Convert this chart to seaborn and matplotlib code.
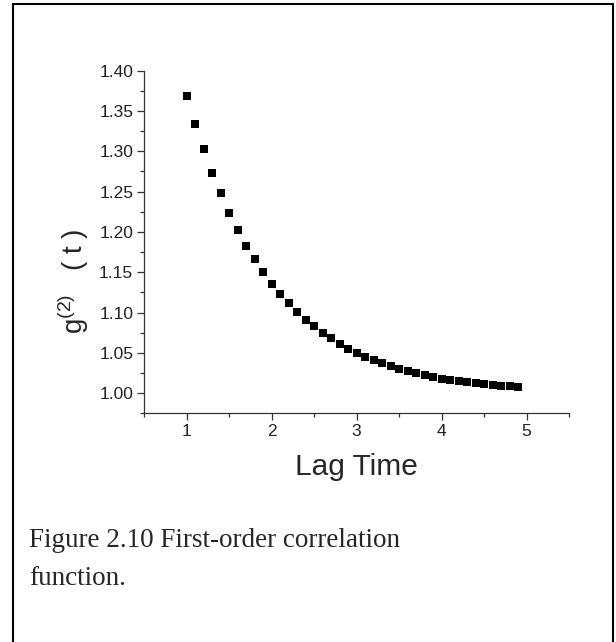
import numpy as np
import pandas as pd
import matplotlib.pyplot as plt
from matplotlib.patches import Rectangle
from matplotlib.ticker import MultipleLocator
import seaborn as sns

lag_time = [1.0, 1.1, 1.2, 1.3, 1.4, 1.5, 1.6, 1.7, 1.8, 1.9,
            2.0, 2.1, 2.2, 2.3, 2.4, 2.5, 2.6, 2.7, 2.8, 2.9,
            3.0, 3.1, 3.2, 3.3, 3.4, 3.5, 3.6, 3.7, 3.8, 3.9,
            4.0, 4.1, 4.2, 4.3, 4.4, 4.5, 4.6, 4.7, 4.8, 4.9]
g2 = [1.369, 1.334, 1.303, 1.273, 1.248, 1.224, 1.202, 1.183, 1.166, 1.150,
      1.136, 1.123, 1.112, 1.101, 1.091, 1.083, 1.075, 1.068, 1.061, 1.055,
      1.050, 1.045, 1.041, 1.037, 1.034, 1.030, 1.027, 1.025, 1.022, 1.020,
      1.018, 1.0167, 1.0149, 1.0137, 1.0124, 1.0112, 1.0100, 1.0092, 1.0083, 1.0075]

x_ticks = [1, 2, 3, 4, 5]
y_ticks = [1.00, 1.05, 1.10, 1.15, 1.20, 1.25, 1.30, 1.35, 1.40]

df = pd.DataFrame({"lag": lag_time, "g2": g2})

sns.set_style("ticks")
plt.rcParams["font.family"] = ["Liberation Sans", "DejaVu Sans"]
plt.rcParams["mathtext.fontset"] = "custom"
plt.rcParams["mathtext.rm"] = "Liberation Sans"

fig = plt.figure(figsize=(6.16, 6.42), dpi=100)
ax = fig.add_axes([0.2343, 0.3562, 0.6894, 0.5337])

sns.scatterplot(x="lag", y="g2", data=df, ax=ax, marker="s", s=28,
                color="black", edgecolor="black", linewidth=0)

ax.set_xlim(0.5, 5.5)
ax.set_ylim(0.975, 1.40)
ax.set_xticks(x_ticks)
ax.set_yticks(y_ticks)
ax.set_yticklabels([f"{v:.2f}" for v in y_ticks])
ax.xaxis.set_minor_locator(MultipleLocator(0.5))
ax.yaxis.set_minor_locator(MultipleLocator(0.025))
ax.tick_params(which="major", direction="out", length=5, width=0.9,
               labelsize=12.5, color="#333333", labelcolor="#222222", pad=3)
ax.tick_params(which="minor", direction="out", length=3, width=0.9, color="#333333")

sns.despine(ax=ax)
for sp in ["left", "bottom"]:
    ax.spines[sp].set_linewidth(0.9)
    ax.spines[sp].set_color("#333333")

ax.set_xlabel("Lag Time", fontsize=21.5, labelpad=10)
ax.set_ylabel("")
# y label sits lower than the axes centre in the original
ax.text(-0.168, 0.385, r"g$^{\mathregular{(2)}}$   ( t )", transform=ax.transAxes,
        fontsize=20, rotation=90, ha="center", va="center")

# caption below the chart
cap_font = ["Liberation Serif", "DejaVu Serif"]
fig.text(29 / 616, 1 - 547 / 642, "Figure 2.10 First-order correlation",
         family=cap_font, fontsize=19.5, va="baseline")
fig.text(29 / 616, 1 - 585 / 642, "function.",
         family=cap_font, fontsize=19.5, va="baseline")

# frame round the figure
fig.add_artist(Rectangle((13 / 616, -0.05), 600 / 616, 1.05 - 4 / 642,
                         transform=fig.transFigure, fill=False,
                         linewidth=1.5, edgecolor="black"))

fig.savefig("out.png", dpi=100)
